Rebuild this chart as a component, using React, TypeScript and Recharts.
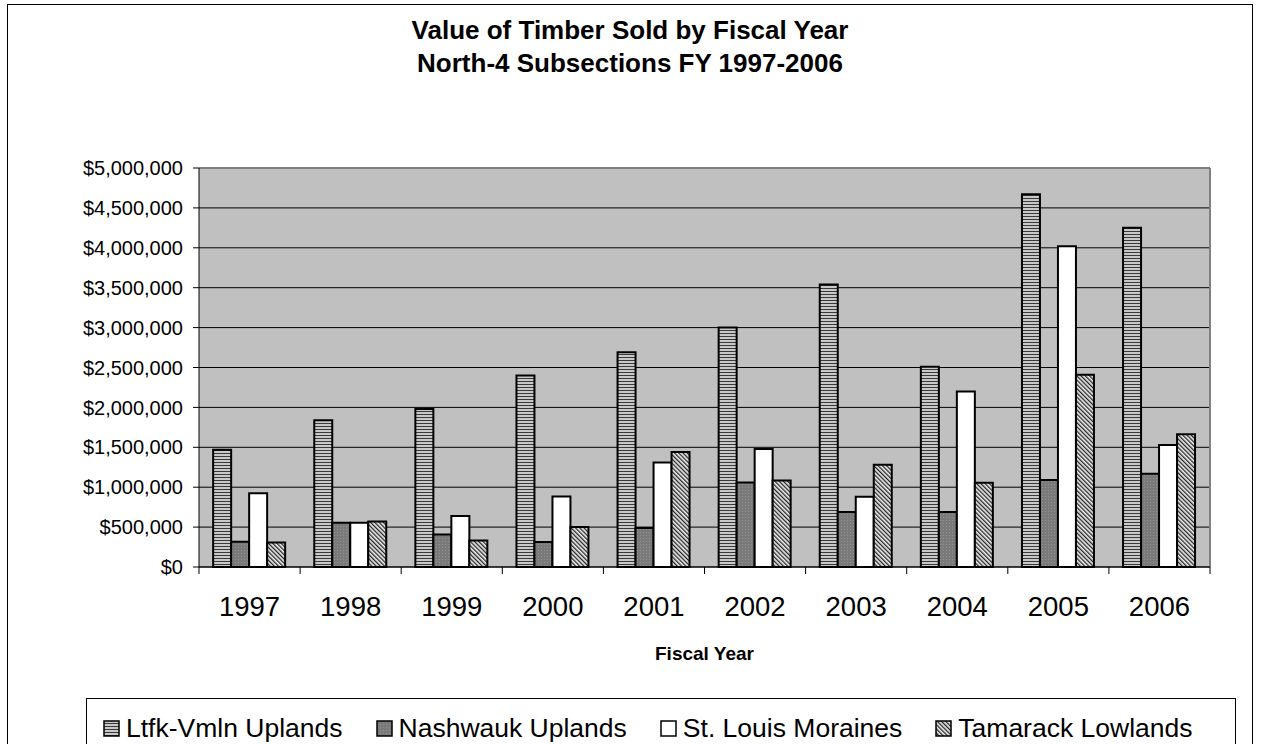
import React from "react";
import { BarChart, Bar, XAxis, YAxis, CartesianGrid, ReferenceLine } from "recharts";

// Value of timber sold, North-4 subsections, FY 1997-2006 (dollars)
const YEARS = ["1997", "1998", "1999", "2000", "2001", "2002", "2003", "2004", "2005", "2006"];
const LTFK_VMLN = [1470000, 1840000, 1980000, 2400000, 2690000, 3000000, 3540000, 2510000, 4670000, 4250000];
const NASHWAUK = [315000, 553000, 408000, 312000, 490000, 1060000, 690000, 688000, 1090000, 1170000];
const ST_LOUIS = [925000, 553000, 638000, 884000, 1310000, 1480000, 881000, 2200000, 4020000, 1530000];
const TAMARACK = [307000, 570000, 333000, 500000, 1440000, 1085000, 1282000, 1056000, 2410000, 1663000];
const Y_TICKS = [0, 500000, 1000000, 1500000, 2000000, 2500000, 3000000, 3500000, 4000000, 4500000, 5000000];

const SERIES = [
  { key: "ltfk", name: "Ltfk-Vmln Uplands", values: LTFK_VMLN, fill: "url(#patStripes)" },
  { key: "nash", name: "Nashwauk Uplands", values: NASHWAUK, fill: "url(#patDots)" },
  { key: "stl", name: "St. Louis Moraines", values: ST_LOUIS, fill: "#ffffff" },
  { key: "tam", name: "Tamarack Lowlands", values: TAMARACK, fill: "url(#patHatch)" },
];

const data = YEARS.map((year, i) => {
  const row: Record<string, string | number> = { year };
  for (const s of SERIES) row[s.key] = s.values[i];
  return row;
});

// layout (page pixels)
const W = 1261;
const H = 744;
const PLOT_LEFT = 199;
const PLOT_RIGHT = 1210;
const PLOT_TOP = 168;
const PLOT_BOTTOM = 567;
const X_AXIS_H = 90;
const BAND = (PLOT_RIGHT - PLOT_LEFT) / YEARS.length;
const FONT = "'Liberation Sans', Arial, Helvetica, sans-serif";

const money = (v: number) => "$" + v.toLocaleString("en-US");

// excel-style fill patterns (stripes / dotted gray / downward diagonal)
function Patterns() {
  return (
    <defs>
      <pattern id="patStripes" width="4" height="3" patternUnits="userSpaceOnUse">
        <rect width="4" height="3" fill="#c8c8c8" />
        <rect width="4" height="1" fill="#3a3a3a" />
      </pattern>
      <pattern id="patDots" width="3" height="3" patternUnits="userSpaceOnUse">
        <rect width="3" height="3" fill="#7a7a7a" />
        <rect x="1" y="1" width="1" height="1" fill="#939393" />
      </pattern>
      <pattern id="patHatch" width="3" height="3" patternUnits="userSpaceOnUse" patternTransform="rotate(-45)">
        <rect width="3" height="3" fill="#eeeeee" />
        <rect width="1.3" height="3" fill="#262626" />
      </pattern>
    </defs>
  );
}

// category ticks sit on the band edges, labels in the middle
function YearTick(props: any) {
  const { x, payload, index } = props;
  const left = x - BAND / 2;
  return (
    <g>
      <line x1={left} y1={PLOT_BOTTOM} x2={left} y2={PLOT_BOTTOM + 7} stroke="#000" strokeWidth={1} />
      {index === YEARS.length - 1 && (
        <line x1={x + BAND / 2} y1={PLOT_BOTTOM} x2={x + BAND / 2} y2={PLOT_BOTTOM + 7} stroke="#000" strokeWidth={1} />
      )}
      <text x={x} y={PLOT_BOTTOM + 49} textAnchor="middle" fontSize={27.5} fontFamily={FONT} fill="#000">
        {payload.value}
      </text>
    </g>
  );
}

function LegendBox() {
  return (
    <div
      style={{
        position: "absolute",
        left: 86,
        top: 698,
        width: 1150,
        height: 100,
        boxSizing: "border-box",
        border: "1px solid #000",
        background: "#fff",
      }}
    >
      <div
        style={{
          position: "absolute",
          left: 16,
          top: 16,
          height: 26,
          display: "flex",
          alignItems: "flex-start",
          gap: 33,
          fontFamily: FONT,
          fontSize: 26.5,
          lineHeight: "26px",
          whiteSpace: "nowrap",
          color: "#000",
        }}
      >
        {SERIES.map((s) => (
          <div key={s.key} style={{ display: "flex", alignItems: "flex-start", height: 26 }}>
            <svg width={17} height={17} style={{ display: "block", marginRight: 6, marginTop: 5 }}>
              <Patterns />
              <rect x={1} y={1} width={15} height={15} fill={s.fill} stroke="#000" strokeWidth={1.5} />
            </svg>
            <span style={{ display: "block", height: 26 }}>{s.name}</span>
          </div>
        ))}
      </div>
    </div>
  );
}

export default function App() {
  return (
    <div style={{ position: "absolute", left: 0, top: 0, width: W, height: H, overflow: "hidden" }}>
      {/* chart frame */}
      <div
        style={{
          position: "absolute",
          left: 7,
          top: 4,
          width: 1246,
          height: 800,
          boxSizing: "border-box",
          border: "1px solid #000",
          background: "#fff",
        }}
      />
      <div
        style={{
          position: "absolute",
          left: 7,
          top: 14,
          width: 1246,
          textAlign: "center",
          fontFamily: FONT,
          fontWeight: "bold",
          fontSize: 26,
          lineHeight: "33px",
          color: "#000",
        }}
      >
        Value of Timber Sold by Fiscal Year
        <br />
        North-4 Subsections FY 1997-2006
      </div>
      <div style={{ position: "absolute", left: 0, top: 0 }}>
        <BarChart
          width={W}
          height={H}
          data={data}
          barCategoryGap="14%"
          barGap={0}
          margin={{ top: PLOT_TOP, right: W - PLOT_RIGHT, bottom: H - PLOT_BOTTOM - X_AXIS_H, left: 0 }}
        >
          <Patterns />
          <CartesianGrid vertical={false} stroke="#000" strokeWidth={1} fill="#c0c0c0" fillOpacity={1} />
          <XAxis
            dataKey="year"
            height={X_AXIS_H}
            axisLine={{ stroke: "#000", strokeWidth: 1 }}
            tickLine={false}
            tick={<YearTick />}
            interval={0}
            label={{
              content: (p: any) => (
                <text
                  x={p.viewBox.x + p.viewBox.width / 2}
                  y={p.viewBox.y + 93}
                  textAnchor="middle"
                  fontSize={19}
                  fontWeight="bold"
                  fontFamily={FONT}
                  fill="#000"
                >
                  Fiscal Year
                </text>
              ),
            }}
          />
          <YAxis
            width={PLOT_LEFT}
            domain={[0, 5000000]}
            ticks={Y_TICKS}
            interval={0}
            tickFormatter={money}
            axisLine={{ stroke: "#000", strokeWidth: 1 }}
            tickLine={{ stroke: "#000", strokeWidth: 1 }}
            tickSize={6}
            tickMargin={10}
            tick={{ fontSize: 20, fill: "#000", fontFamily: FONT }}
          />
          <ReferenceLine y={5000000} stroke="#808080" strokeWidth={2} />
          <ReferenceLine x="2006" position="end" stroke="#808080" strokeWidth={2} />
          {SERIES.map((s) => (
            <Bar
              key={s.key}
              dataKey={s.key}
              name={s.name}
              fill={s.fill}
              stroke="#000"
              strokeWidth={2}
              isAnimationActive={false}
            />
          ))}
        </BarChart>
      </div>
      <LegendBox />
    </div>
  );
}
